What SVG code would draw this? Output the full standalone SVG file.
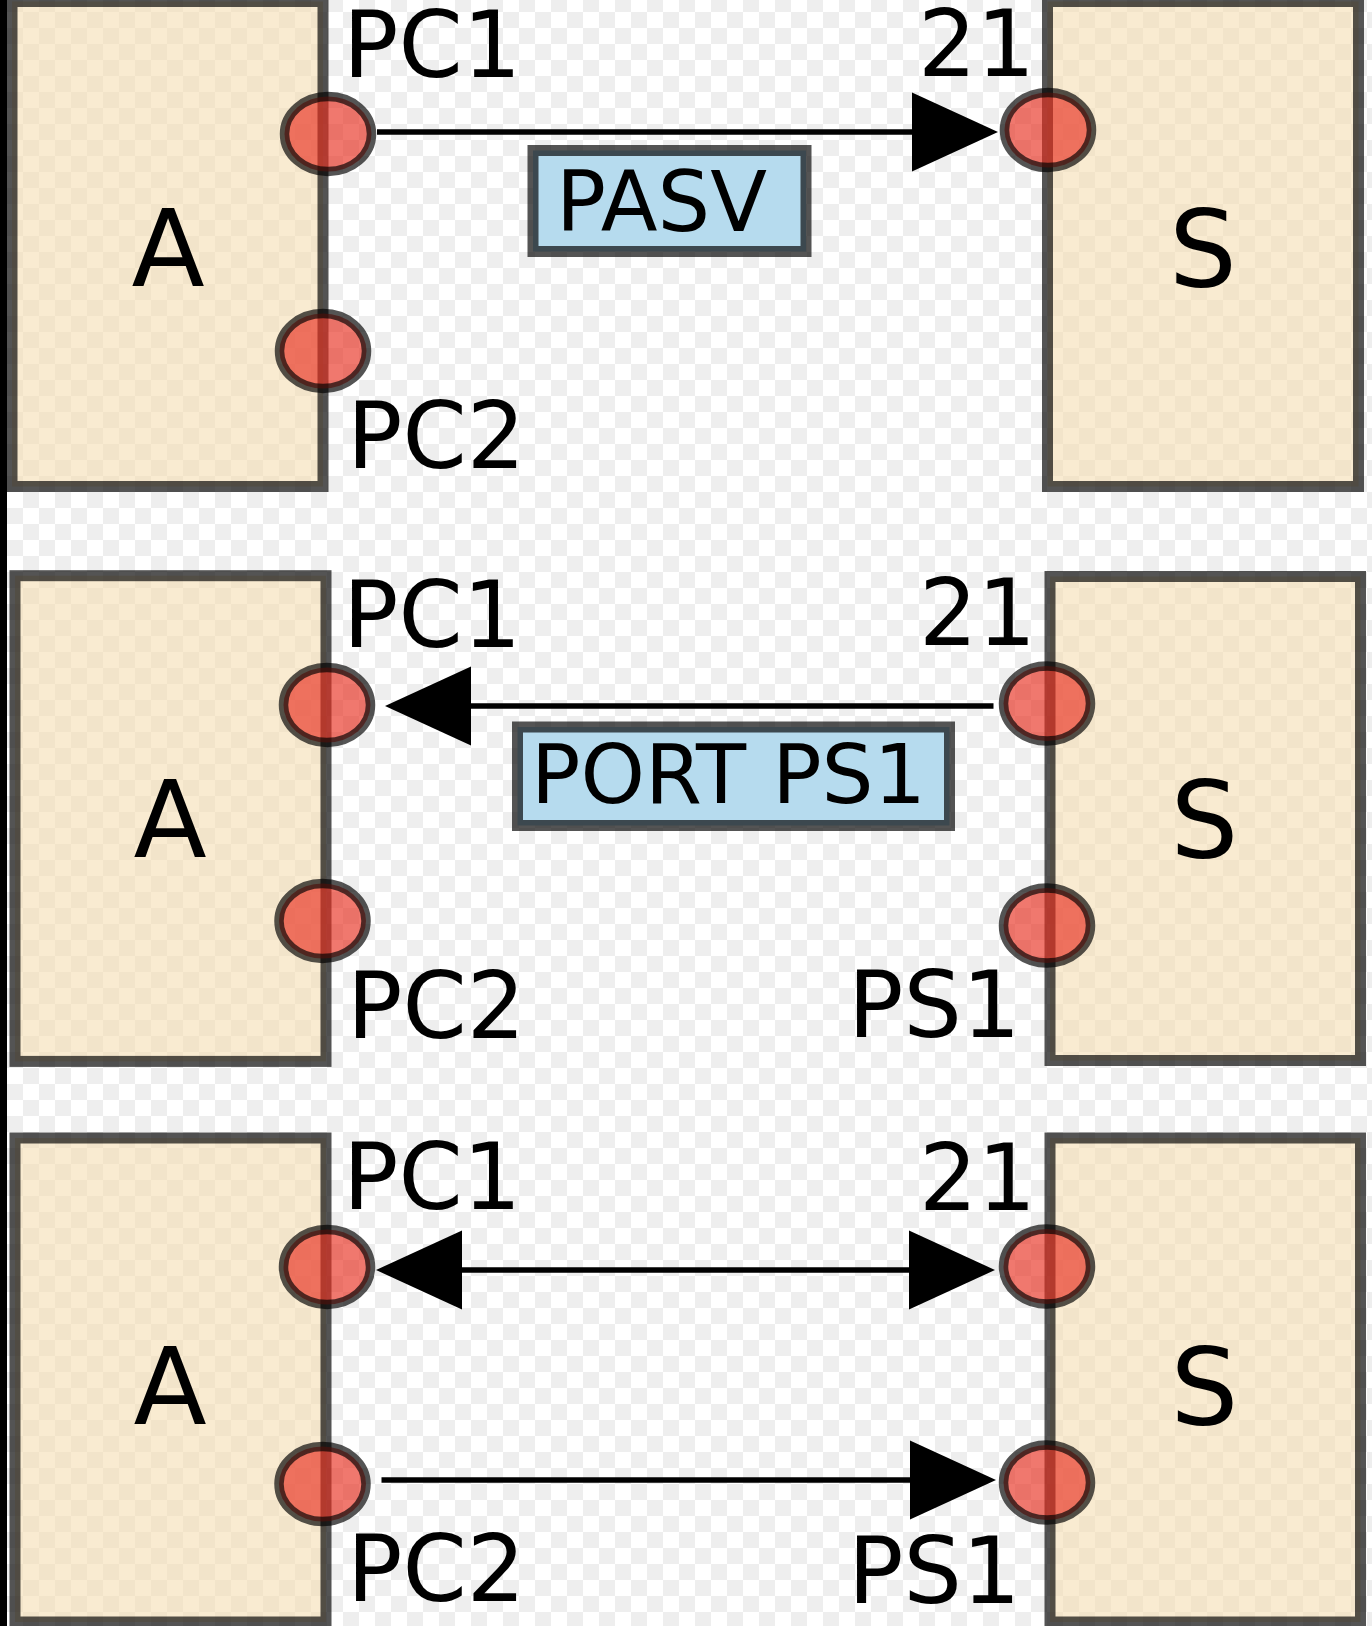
<svg xmlns="http://www.w3.org/2000/svg" width="1372" height="1626" viewBox="0 0 1372 1626">
<style>
.box{fill:#f5deb3;fill-opacity:.6;stroke:#000;stroke-opacity:.67;stroke-width:11}
.port{fill:#e83020;fill-opacity:.65;stroke:#000;stroke-opacity:.67;stroke-width:9.5}
.cmd{fill:#b6dbee;stroke:#000;stroke-opacity:.67;stroke-width:11}
text{font-family:"DejaVu Sans","Liberation Sans",sans-serif;fill:#000}
.lbl{font-size:92px}
.end{text-anchor:end}
.big{font-size:107px;text-anchor:middle}
.ctext{font-size:83px}
.conn{stroke:#000;stroke-width:5.5;fill:none}
</style>
<defs>
<pattern id="chk" x="7" y="12" width="32" height="32" patternUnits="userSpaceOnUse">
<rect width="32" height="32" fill="#ffffff"/>
<rect x="16" y="0" width="16" height="16" fill="#eeeeee"/>
<rect x="0" y="16" width="16" height="16" fill="#eeeeee"/>
</pattern>
<marker id="arr" markerUnits="userSpaceOnUse" markerWidth="90" markerHeight="80" refX="0" refY="39.5" orient="auto-start-reverse" overflow="visible">
<path d="M0,0 L86,39.5 L0,79 z" fill="#000"/>
</marker>
</defs>
<rect width="1372" height="1626" fill="url(#chk)"/>
<rect x="0" y="0" width="7" height="1626" fill="#000"/>

<!-- Panel 1 -->
<g id="A1">
<rect class="box" x="12" y="1.5" width="311" height="485"/>
<text class="big" x="168" y="286">A</text>
<ellipse class="port" cx="328" cy="134" rx="43.5" ry="37.5"/>
<ellipse class="port" cx="323" cy="351" rx="43.5" ry="37.5"/>
<text class="lbl" x="343" y="77">PC1</text>
<text class="lbl" x="347" y="468">PC2</text>
</g>
<g id="S1">
<rect class="box" x="1047.5" y="1.5" width="311" height="485"/>
<text class="big" x="1203" y="286">S</text>
<ellipse class="port" cx="1048" cy="130" rx="43.5" ry="37.5"/>
<text class="lbl end" x="1035" y="76">21</text>
</g>
<g id="cmd-pasv">
<rect class="cmd" x="533" y="150.5" width="273" height="101"/>
<text class="ctext" x="556" y="231">PASV</text>
</g>

<!-- Panel 2 -->
<g id="A2">
<rect class="box" x="15" y="575.7" width="311" height="485.7"/>
<text class="big" x="170" y="857">A</text>
<ellipse class="port" cx="327" cy="705" rx="43.5" ry="37.5"/>
<ellipse class="port" cx="322.5" cy="921" rx="43.5" ry="37.5"/>
<text class="lbl" x="343" y="647">PC1</text>
<text class="lbl" x="347" y="1037.5">PC2</text>
</g>
<g id="S2">
<rect class="box" x="1050" y="576.5" width="310.5" height="484"/>
<text class="big" x="1204.5" y="857">S</text>
<ellipse class="port" cx="1047" cy="703.5" rx="43.5" ry="37.5"/>
<ellipse class="port" cx="1047" cy="925.5" rx="43.5" ry="37.5"/>
<text class="lbl end" x="1036" y="644.5">21</text>
<text class="lbl" x="848" y="1036.5">PS1</text>
</g>
<g id="cmd-port">
<rect class="cmd" x="517.5" y="727" width="432" height="98.5"/>
<text class="ctext" x="531" y="802.5" style="font-size:82px">PORT PS1</text>
</g>

<!-- Panel 3 -->
<g id="A3">
<rect class="box" x="15" y="1138" width="311" height="484"/>
<text class="big" x="170" y="1424">A</text>
<ellipse class="port" cx="327" cy="1267" rx="43.5" ry="37.5"/>
<ellipse class="port" cx="322.5" cy="1484" rx="43.5" ry="37.5"/>
<text class="lbl" x="343" y="1209">PC1</text>
<text class="lbl" x="347" y="1601">PC2</text>
</g>
<g id="S3">
<rect class="box" x="1050" y="1138" width="310.5" height="484"/>
<text class="big" x="1204.5" y="1424">S</text>
<ellipse class="port" cx="1047" cy="1266.5" rx="43.5" ry="37.5"/>
<ellipse class="port" cx="1047" cy="1482.5" rx="43.5" ry="37.5"/>
<text class="lbl end" x="1036" y="1209.5">21</text>
<text class="lbl" x="848" y="1603">PS1</text>
</g>

<g id="connectors">
<line class="conn" x1="377" y1="132" x2="912" y2="132" marker-end="url(#arr)"/>
<line class="conn" x1="993.5" y1="706" x2="471" y2="706" marker-end="url(#arr)"/>
<line class="conn" x1="462" y1="1270" x2="909" y2="1270" marker-start="url(#arr)" marker-end="url(#arr)"/>
<line class="conn" x1="381.5" y1="1480" x2="910" y2="1480" marker-end="url(#arr)"/>
</g>
</svg>
